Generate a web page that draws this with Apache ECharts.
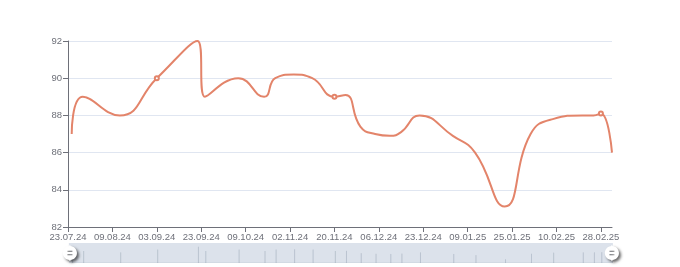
<!DOCTYPE html>
<html>
<head>
<meta charset="utf-8">
<script src="https://cdn.jsdelivr.net/npm/echarts@6/dist/echarts.min.js"></script>
<style>html,body{margin:0;padding:0;background:#fff}#c{width:680px;height:267px}</style>
</head>
<body>
<div id="c"></div>
<script>
const categories = (
  '23.07.24 24.07.24 25.07.24 26.07.24 29.07.24 30.07.24 31.07.24 01.08.24 02.08.24 05.08.24 06.08.24 07.08.24 ' +
  '09.08.24 10.08.24 12.08.24 14.08.24 15.08.24 16.08.24 19.08.24 21.08.24 22.08.24 26.08.24 28.08.24 30.08.24 ' +
  '03.09.24 04.09.24 05.09.24 06.09.24 09.09.24 10.09.24 11.09.24 12.09.24 13.09.24 17.09.24 19.09.24 20.09.24 ' +
  '23.09.24 24.09.24 25.09.24 26.09.24 27.09.24 30.09.24 01.10.24 02.10.24 03.10.24 04.10.24 07.10.24 08.10.24 ' +
  '09.10.24 10.10.24 11.10.24 14.10.24 15.10.24 17.10.24 18.10.24 21.10.24 23.10.24 25.10.24 28.10.24 30.10.24 ' +
  '02.11.24 04.11.24 05.11.24 06.11.24 07.11.24 08.11.24 11.11.24 12.11.24 13.11.24 14.11.24 15.11.24 18.11.24 ' +
  '20.11.24 21.11.24 22.11.24 25.11.24 26.11.24 27.11.24 28.11.24 29.11.24 02.12.24 03.12.24 04.12.24 05.12.24 ' +
  '06.12.24 09.12.24 10.12.24 11.12.24 12.12.24 13.12.24 16.12.24 17.12.24 18.12.24 19.12.24 20.12.24 21.12.24 ' +
  '23.12.24 24.12.24 25.12.24 26.12.24 27.12.24 28.12.24 29.12.24 30.12.24 31.12.24 03.01.25 06.01.25 08.01.25 ' +
  '09.01.25 10.01.25 13.01.25 14.01.25 15.01.25 16.01.25 17.01.25 18.01.25 20.01.25 21.01.25 22.01.25 23.01.25 ' +
  '25.01.25 27.01.25 28.01.25 29.01.25 30.01.25 31.01.25 01.02.25 03.02.25 04.02.25 05.02.25 06.02.25 07.02.25 ' +
  '10.02.25 11.02.25 12.02.25 13.02.25 14.02.25 17.02.25 18.02.25 19.02.25 20.02.25 21.02.25 24.02.25 26.02.25 ' +
  '28.02.25 01.03.25 03.03.25 04.03.25'
).split(' ');

const pointDates = ['24.07.24','29.07.24','12.08.24','03.09.24','20.09.24','24.09.24','07.10.24','17.10.24',
  '23.10.24','04.11.24','11.11.24','20.11.24','25.11.24','29.11.24','05.12.24','11.12.24','16.12.24','21.12.24',
  '31.12.24','13.01.25','22.01.25','31.01.25','07.02.25','19.02.25','24.02.25','28.02.25','04.03.25'];
const pointValues = [87.0, 89.0, 88.0, 90.0, 92.0, 89.0, 90.0, 89.0,
  90.0, 90.2, 90.0, 89.0, 89.1, 87.4, 87.0, 86.9, 87.1, 88.0,
  86.9, 86.0, 83.1, 87.0, 87.8, 88.0, 88.0, 88.1, 86.0];

const seriesData = categories.map(function (d) {
  const i = pointDates.indexOf(d);
  return i >= 0 ? pointValues[i] : null;
});

const labelFont = { color: '#6E7079', fontSize: 9.5, fontFamily: 'Liberation Sans, Arial, sans-serif' };

const chart = echarts.init(document.getElementById('c'));
chart.setOption({
  animation: false,
  grid: { left: 68, right: 68, top: 41, bottom: 40 },
  xAxis: {
    type: 'category',
    data: categories,
    boundaryGap: false,
    axisLine: { lineStyle: { color: '#6E7079' } },
    axisLabel: Object.assign({ interval: function (i) { return i % 12 === 0; }, hideOverlap: false, margin: 5 }, labelFont),
    axisTick: { interval: function (i) { return i % 12 === 0; } }
  },
  yAxis: {
    type: 'value',
    min: 82, max: 92, interval: 2,
    axisLine: { show: true, lineStyle: { color: '#6E7079' } },
    axisTick: { show: true },
    axisLabel: Object.assign({ margin: 6 }, labelFont),
    splitLine: { lineStyle: { color: '#E0E6F1' } }
  },
  dataZoom: [{
    type: 'slider',
    left: 68, right: 68, top: 243, height: 20,
    start: 0, end: 100,
    brushSelect: false,
    moveHandleSize: 0,
    showDetail: false,
    borderColor: 'transparent',
    backgroundColor: 'rgba(47,69,84,0)',
    fillerColor: 'rgba(167,183,204,0.4)',
    handleIcon: 'M10.7,11.9v-1.3H9.3v1.3c-4.9,0.3-8.8,4.4-8.8,9.4c0,5,3.9,9.1,8.8,9.4v1.3h1.3v-1.3c4.9-0.3,8.8-4.4,8.8-9.4C19.5,16.3,15.6,12.2,10.7,11.9z M13.3,24.4H6.7V23h6.6V24.4z M13.3,19.6H6.7v-1.4h6.6V19.6z',
    handleSize: '80%',
    handleStyle: { color: '#fff', borderWidth: 0, shadowBlur: 3, shadowColor: 'rgba(0,0,0,0.6)', shadowOffsetX: 2, shadowOffsetY: 2 },
    dataBackground: { lineStyle: { color: '#2f4554', width: 0.5, opacity: 0.3 }, areaStyle: { color: 'rgba(47,69,84,0.3)' } },
    selectedDataBackground: { lineStyle: { color: '#2f4554', width: 0.5, opacity: 0.3 }, areaStyle: { color: 'rgba(47,69,84,0.3)' } }
  }],
  series: [{
    type: 'line',
    data: seriesData,
    smooth: true,
    connectNulls: true,
    symbolSize: 4,
    itemStyle: { color: '#e3846a' },
    lineStyle: { color: '#e3846a', width: 2 }
  }]
});
</script>
</body>
</html>
